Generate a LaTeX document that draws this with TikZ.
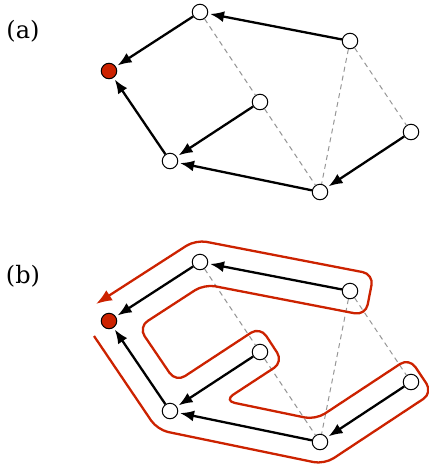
\documentclass[tikz,border=0pt]{standalone}
\usepackage{fontspec}
\setmainfont{DejaVu Serif}
\usetikzlibrary{arrows.meta}
\definecolor{tred}{RGB}{204,34,0}
\definecolor{dgray}{RGB}{150,150,150}
\begin{document}
\begin{tikzpicture}[x=1pt,y=-1pt,
  vtx/.style={circle,draw=black,line width=1pt,fill=white,minimum size=15.5pt,inner sep=0pt},
  root/.style={vtx,fill=tred},
  tedge/.style={line width=2.3pt,-{Latex[length=14pt,width=11pt]},shorten >=2pt},
  nedge/.style={dgray,line width=1pt,dash pattern=on 5pt off 4pt},
  contour/.style={tred,line width=2.3pt,rounded corners=11pt,-{Latex[length=16pt,width=12pt]}},
  lab/.style={font=\fontsize{24}{28}\selectfont,inner sep=0pt}]
\useasboundingbox (0,0) rectangle (429,467);
% labels
\node[lab] (la) at (23,31) {(a)};
\node[lab] (lb) at (23,276) {(b)};
% ---------- (a)
\node[root] (aR) at (109,71) {};
\node[vtx] (aA) at (200,12) {};
\node[vtx] (aB) at (350,41) {};
\node[vtx] (aC) at (260,102) {};
\node[vtx] (aD) at (411,132) {};
\node[vtx] (aE) at (170,161) {};
\node[vtx] (aF) at (320,192) {};
\draw[nedge] (aA) -- (aC);
\draw[nedge] (aC) -- (aF);
\draw[nedge] (aB) -- (aF);
\draw[nedge] (aB) -- (aD);
\draw[tedge] (aB) -- (aA);
\draw[tedge] (aA) -- (aR);
\draw[tedge] (aC) -- (aE);
\draw[tedge] (aE) -- (aR);
\draw[tedge] (aF) -- (aE);
\draw[tedge] (aD) -- (aF);
% ---------- (b)
\node[root] (bR) at (109,321) {};
\node[vtx] (bA) at (200,262) {};
\node[vtx] (bB) at (350,291) {};
\node[vtx] (bC) at (260,352) {};
\node[vtx] (bD) at (411,382) {};
\node[vtx] (bE) at (170,411) {};
\node[vtx] (bF) at (320,442) {};
\draw[nedge] (bA) -- (bC);
\draw[nedge] (bC) -- (bF);
\draw[nedge] (bB) -- (bF);
\draw[nedge] (bB) -- (bD);
\draw[tedge] (bB) -- (bA);
\draw[tedge] (bA) -- (bR);
\draw[tedge] (bC) -- (bE);
\draw[tedge] (bE) -- (bR);
\draw[tedge] (bF) -- (bE);
\draw[tedge] (bD) -- (bF);
% contour (Euler tour)
\coordinate (cs) at (94,336);
\coordinate (ce) at (96,304);
\draw[contour] (cs) -- (157.4,429.8) -- (324.4,464.3) -- (432.6,392.8) -- (409.3,357.9)
  -- (315.6,419.7) -- (224.0,400.7) -- (283.2,361.9) -- (260.2,326.7) -- (175.8,382.1)
  -- (138.4,327.0) -- (204.3,284.2) -- (365.6,315.4) -- (373.6,274.2) -- (195.7,239.8)
  -- (ce);
\end{tikzpicture}
\end{document}
